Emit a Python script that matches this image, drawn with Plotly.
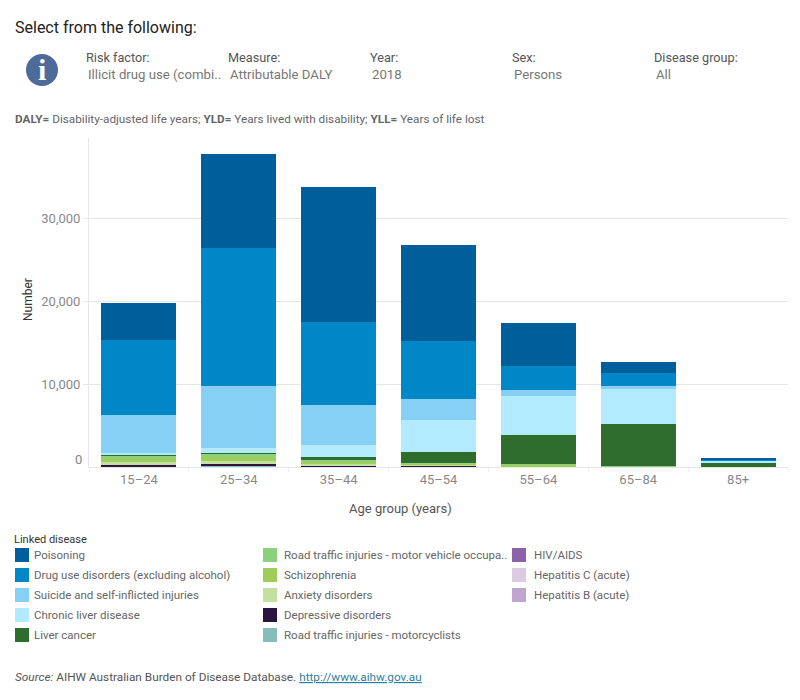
import plotly.graph_objects as go

ages = ["15–24", "25–34", "35–44", "45–54", "55–64", "65–84", "85+"]

# Attributable DALY per linked disease, youngest to oldest age group
motorcyclists = [120, 120, 120, 120, 10, 5, 0]
depressive = [240, 360, 120, 20, 10, 5, 0]
anxiety = [240, 240, 240, 120, 30, 10, 0]
schizophrenia = [360, 445, 180, 120, 200, 30, 0]
motor_occupants = [480, 435, 180, 120, 60, 70, 5]
liver_cancer = [120, 85, 360, 1330, 3530, 5065, 480]
chronic_liver = [120, 600, 1450, 3860, 4700, 4340, 240]
suicide = [4580, 7480, 4825, 2530, 724, 240, 100]
drug_use = [9050, 16640, 10010, 6995, 2900, 1570, 100]
poisoning = [4460, 11340, 16280, 11580, 5190, 1330, 100]
hiv_aids = [0, 0, 0, 0, 0, 0, 0]
hepatitis_c = [0, 0, 0, 0, 0, 0, 0]
hepatitis_b = [0, 0, 0, 0, 0, 0, 0]

# Stacked bottom to top
stack = [
    ("Road traffic injuries - motorcyclists", motorcyclists, "#87bdb8"),
    ("Depressive disorders", depressive, "#2c1340"),
    ("Anxiety disorders", anxiety, "#c2e0a0"),
    ("Schizophrenia", schizophrenia, "#a0cc5a"),
    ("Road traffic injuries - motor vehicle occupants", motor_occupants, "#8bd17c"),
    ("Liver cancer", liver_cancer, "#2f6d2f"),
    ("Chronic liver disease", chronic_liver, "#b2ebff"),
    ("Suicide and self-inflicted injuries", suicide, "#87d0f5"),
    ("Drug use disorders (excluding alcohol)", drug_use, "#0087c7"),
    ("Poisoning", poisoning, "#005f9a"),
    ("HIV/AIDS", hiv_aids, "#8c62a8"),
    ("Hepatitis C (acute)", hepatitis_c, "#dccae0"),
    ("Hepatitis B (acute)", hepatitis_b, "#c2a5cf"),
]

legend_columns = [
    [("Poisoning", "#005f9a"), ("Drug use disorders (excluding alcohol)", "#0087c7"),
     ("Suicide and self-inflicted injuries", "#87d0f5"), ("Chronic liver disease", "#b2ebff"),
     ("Liver cancer", "#2f6d2f")],
    [("Road traffic injuries - motor vehicle occupa..", "#8bd17c"), ("Schizophrenia", "#a0cc5a"),
     ("Anxiety disorders", "#c2e0a0"), ("Depressive disorders", "#2c1340"),
     ("Road traffic injuries - motorcyclists", "#87bdb8")],
    [("HIV/AIDS", "#8c62a8"), ("Hepatitis C (acute)", "#dccae0"), ("Hepatitis B (acute)", "#c2a5cf")],
]

filters = [
    ("Risk factor:", "Illicit drug use (combi..", 86),
    ("Measure:", "Attributable DALY", 228),
    ("Year:", "2018", 370),
    ("Sex:", "Persons", 512),
    ("Disease group:", "All", 654),
]

W, H = 800, 700
FONT = "Roboto"
GRID = "#e6e6e6"


def px(x):
    return x / W


def py(y):
    return 1 - y / H


def label(x, y, text, size=12, color="#666666", anchor="left", **kw):
    # annotations carry a small internal pad, so left-aligned text is pulled back by it
    shift = -2 if anchor == "left" else 0
    return dict(x=px(x + shift), y=py(y), xref="paper", yref="paper", text=text, showarrow=False,
                xanchor=anchor, yanchor="middle", font=dict(family=FONT, size=size, color=color), **kw)


fig = go.Figure()
for name, values, color in stack:
    fig.add_bar(x=ages, y=values, name=name, marker=dict(color=color, line_width=0), showlegend=False)

annotations = [
    label(15, 27, "Select from the following:", size=16, color="#222222"),
    label(15, 119, "<b>DALY=</b> Disability-adjusted life years; <b>YLD=</b> Years lived with disability; "
          "<b>YLL=</b> Years of life lost", size=11.75, color="#666666"),
    label(14, 539, "Linked disease", size=11, color="#333333"),
    label(15, 677, "<i>Source:</i> AIHW Australian Burden of Disease Database. "
          "<a href='http://www.aihw.gov.au' style='color:#2f7f9f'><u>http://www.aihw.gov.au</u></a>",
          size=11.8, color="#555555"),
    # the zero tick sits above the baseline
    dict(x=px(84), xref="paper", y=0, yref="y", text="0", showarrow=False, xanchor="right",
         yanchor="middle", yshift=8, font=dict(family=FONT, size=13, color="#888888")),
    label(400, 509, "Age group (years)", size=13, color="#555555", anchor="center"),
    label(28, 300, "Number", size=12, color="#333333", anchor="center", textangle=-90),
    # information badge glyph
    label(42, 70, "i", size=30, color="#ffffff", anchor="center"),
]
annotations[-1]["font"]["family"] = "Liberation Serif"
annotations[-1]["font"]["weight"] = "bold"

for title, value, x in filters:
    annotations.append(label(x, 58, title, size=12.7, color="#555555"))
    annotations.append(label(x + 2, 75, value, size=13.2, color="#777777"))

shapes = [dict(type="circle", xref="paper", yref="paper", x0=px(26), x1=px(58), y0=py(86), y1=py(54),
               fillcolor="#4e6a9b", line_width=0, layer="above")]

column_x = [15, 263, 512]
column_text_x = [34, 284, 534]
for x, text_x, column in zip(column_x, column_text_x, legend_columns):
    for row, (name, color) in enumerate(column):
        y = 555 + row * 20
        shapes.append(dict(type="rect", xref="paper", yref="paper", x0=px(x), x1=px(x + 14),
                           y0=py(y + 7), y1=py(y - 7), fillcolor=color, line_width=0))
        annotations.append(label(text_x, y, name, size=11.5, color="#666666"))

fig.update_layout(
    width=W, height=H, autosize=False, barmode="stack", bargap=0.25,
    margin=dict(l=0, r=0, t=0, b=0), paper_bgcolor="white", plot_bgcolor="white",
    font=dict(family=FONT, size=13, color="#888888"),
    annotations=annotations, shapes=shapes,
    xaxis=dict(
        domain=[px(89), px(788)], range=[-0.5, 6.5], type="category", tickson="boundaries",
        ticks="outside", ticklen=4, tickcolor="#eeeeee", showline=True, linecolor=GRID,
        showgrid=False, automargin=False, tickfont=dict(size=13, color="#888888"),
    ),
    yaxis=dict(
        domain=[py(467), py(138)], range=[0, 39690], tickvals=[10000, 20000, 30000],
        ticktext=["10,000", "20,000", "30,000"], ticks="outside", ticklen=5, tickcolor=GRID,
        showline=True, linecolor=GRID, gridcolor=GRID, zeroline=False, automargin=False,
        tickfont=dict(size=13, color="#888888"),
    ),
)

fig.write_html("out.html")
